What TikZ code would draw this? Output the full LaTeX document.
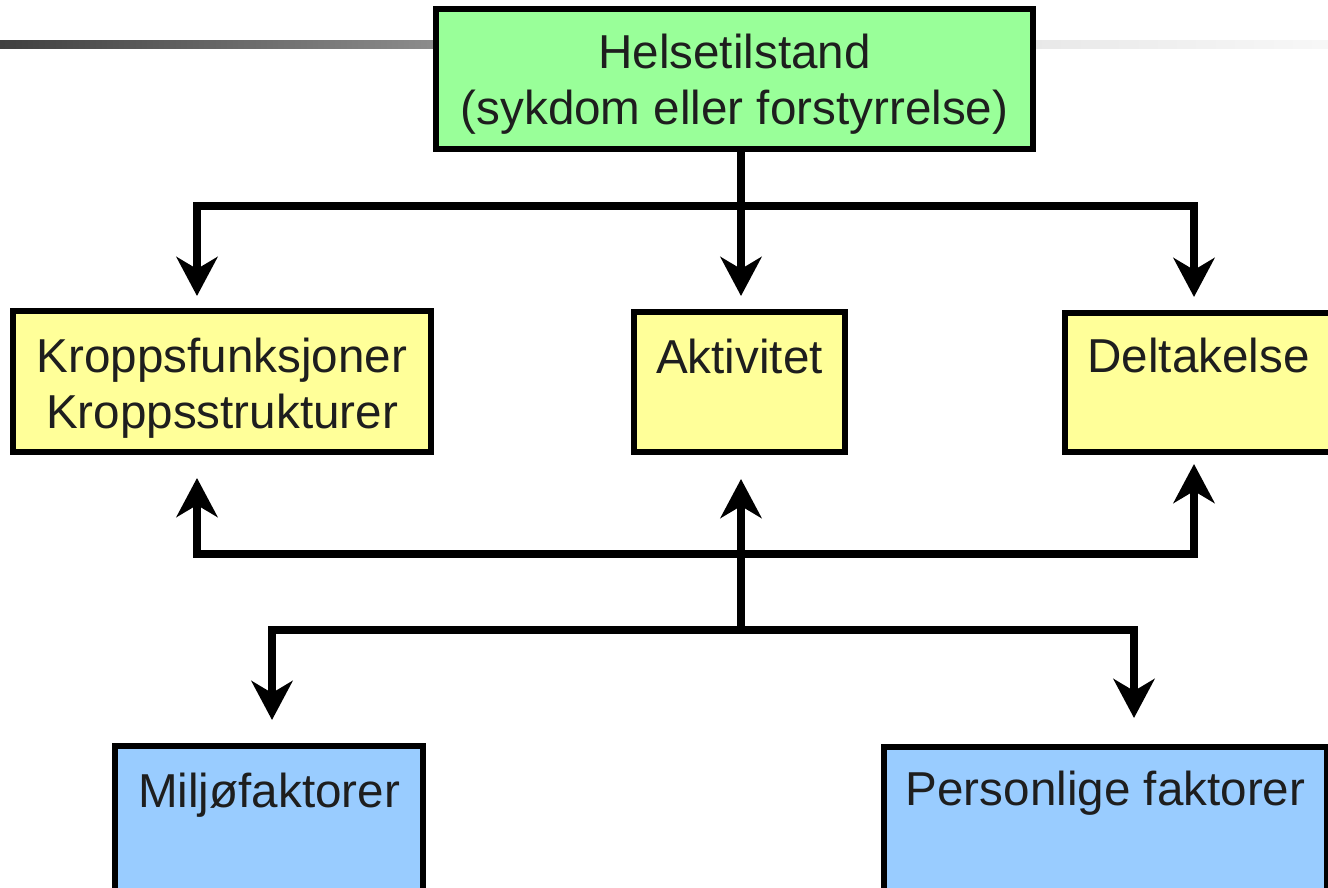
\documentclass[tikz,border=0pt]{standalone}
\usepackage{fontspec}
\setmainfont{Liberation Sans}
\usepackage{tikz}
\usetikzlibrary{arrows.meta}
\definecolor{helsegreen}{HTML}{99FF99}
\definecolor{aktyellow}{HTML}{FFFF99}
\definecolor{faktblue}{HTML}{99CCFF}
\definecolor{txtgray}{HTML}{1E1E1E}

\begin{document}
\begin{tikzpicture}[x = 1pt, y = -1pt,
  box/.style = {draw, line width = 6pt, rectangle, inner sep = 0, anchor = north west},
  lbl/.style = {anchor = base, inner sep = 0, align = center, text = txtgray, font = \fontsize{47.6}{56}\selectfont},
  conn/.style = {line width = 7.5pt, line join = miter},
  >={Stealth[length = 39pt, width = 41pt, inset = 12pt]}]
 \useasboundingbox (0, 0) rectangle (1328, 888);
 \clip (0, 0) rectangle (1328, 888);
 % grey bar behind the title box
 \shade[left color = black!75, right color = black!45] (0, 41) rectangle (436, 49);
 \shade[left color = black!9, right color = black!3] (1033, 41) rectangle (1328, 49);
 % boxes
 \node (helse) at (433, 6) [box, fill = helsegreen, minimum width = 597pt, minimum height = 140pt] {};
 \node (kropp) at (10, 308) [box, fill = aktyellow, minimum width = 418pt, minimum height = 141pt] {};
 \node (akt) at (631, 309) [box, fill = aktyellow, minimum width = 211pt, minimum height = 140pt] {};
 \node (delt) at (1062, 310) [box, fill = aktyellow, minimum width = 267pt, minimum height = 139pt] {};
 \node (miljo) at (112, 743) [box, fill = faktblue, minimum width = 308pt, minimum height = 150pt] {};
 \node (pers) at (881, 744) [box, fill = faktblue, minimum width = 443pt, minimum height = 150pt] {};
 % labels (base is the last line)
 \node (helsetxt) at ([yshift = -119pt] helse.north) [lbl] {Helsetilstand\\(sykdom eller forstyrrelse)};
 \node (krropptxt) at ([yshift = -120pt] kropp.north) [lbl] {Kroppsfunksjoner\\Kroppsstrukturer};
 \node (akttxt) at ([yshift = -64pt] akt.north) [lbl] {Aktivitet};
 \node (delttxt) at ([yshift = -62pt] delt.north) [lbl] {Deltakelse};
 \node (miljotxt) at ([yshift = -64pt] miljo.north) [lbl] {Miljøfaktorer};
 \node (perstxt) at ([yshift = -61pt] pers.north) [lbl] {Personlige faktorer};
 % junctions
 \coordinate (mid) at (741, 206);
 \coordinate (dl) at (197, 206);
 \coordinate (dr) at (1194, 206);
 \coordinate (ul) at (197, 554);
 \coordinate (ur) at (1194, 554);
 \coordinate (hub) at (741, 630);
 \coordinate (fl) at (272, 630);
 \coordinate (fr) at (1134, 630);
 % connectors
 \draw[conn, <->, shorten < = 12pt, shorten > = 13pt] (dl |- kropp.north) -- (dl) -- (dr) -- (dr |- delt.north);
 \draw[conn, ->, shorten > = 13pt] (mid |- helse.south) -- (mid |- akt.north);
 \draw[conn, <->, shorten < = 23pt, shorten > = 9pt] (ul |- kropp.south) -- (ul) -- (ur) -- (ur |- delt.south);
 \draw[conn, ->, shorten > = 24pt] (hub) -- (hub |- akt.south);
 \draw[conn, <->, shorten < = 23pt, shorten > = 26pt] (fl |- miljo.north) -- (fl) -- (fr) -- (fr |- pers.north);
\end{tikzpicture}
\end{document}
